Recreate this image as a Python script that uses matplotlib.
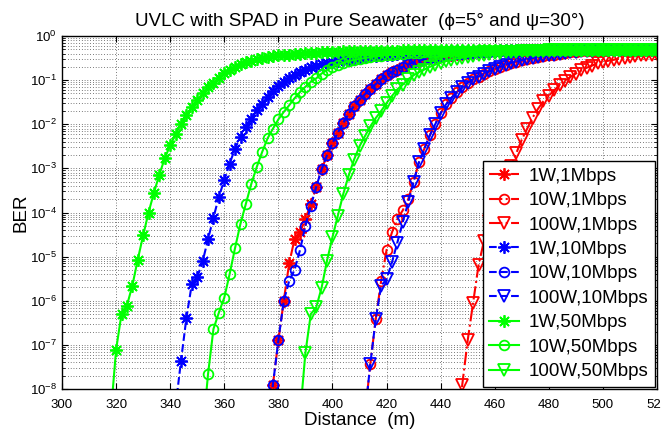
import matplotlib
matplotlib.use("Agg")
import matplotlib.pyplot as plt
from matplotlib.ticker import LogLocator, NullFormatter
import numpy as np

plt.rcParams["font.family"] = ["Liberation Sans", "DejaVu Sans"]
plt.rcParams["mathtext.fontset"] = "custom"
plt.rcParams["mathtext.rm"] = "Liberation Sans"
plt.rcParams["mathtext.it"] = "Liberation Sans:italic"

# log10(BER), one value every 2 m starting at *_start
g1_start = 318
g1_log = [-8.60, -7.11, -6.30, -6.11, -5.66, -5.07, -4.52, -4.00, -3.55, -3.14,
          -2.77, -2.48, -2.23, -2.00, -1.80, -1.61, -1.45, -1.30, -1.16, -1.07,
          -0.95, -0.84, -0.77, -0.70, -0.64, -0.60, -0.56, -0.53, -0.50, -0.48,
          -0.46, -0.44, -0.43, -0.42, -0.41, -0.40, -0.39, -0.38, -0.375, -0.37,
          -0.365, -0.36, -0.355, -0.35, -0.35, -0.345, -0.345, -0.34, -0.34, -0.335,
          -0.335, -0.33, -0.33, -0.33, -0.325, -0.325, -0.325, -0.32, -0.32, -0.32,
          -0.32, -0.318, -0.318, -0.316, -0.316, -0.315, -0.315, -0.314, -0.314, -0.313,
          -0.313, -0.312, -0.312, -0.312, -0.311, -0.311, -0.311, -0.31, -0.31, -0.31,
          -0.31, -0.31, -0.309, -0.309, -0.309, -0.309, -0.308, -0.308, -0.308, -0.308,
          -0.308, -0.307, -0.307, -0.307, -0.307, -0.307, -0.306, -0.306, -0.306, -0.306,
          -0.306, -0.306]

b1_start = 342
b1_log = [-8.40, -7.36, -6.39, -5.62, -5.47, -5.11, -4.60, -4.12, -3.64, -3.27,
          -2.89, -2.55, -2.29, -2.06, -1.87, -1.68, -1.53, -1.38, -1.24, -1.14,
          -1.04, -0.96, -0.89, -0.81, -0.76, -0.70, -0.67, -0.64, -0.62, -0.59,
          -0.57, -0.55, -0.53, -0.51, -0.49, -0.48, -0.46, -0.45, -0.44, -0.43,
          -0.42, -0.41, -0.40, -0.39, -0.385, -0.38, -0.375, -0.37, -0.365, -0.36,
          -0.355, -0.35, -0.35, -0.345, -0.34, -0.34, -0.335, -0.335, -0.33, -0.33,
          -0.328, -0.326, -0.325, -0.324, -0.322, -0.321, -0.32, -0.319, -0.318, -0.317,
          -0.316, -0.315, -0.315, -0.314, -0.313, -0.313, -0.312, -0.312, -0.311, -0.311,
          -0.31, -0.31, -0.31, -0.309, -0.309, -0.309, -0.308, -0.308, -0.308, -0.308]

g10_start = 352
g10_log = [-9.00, -7.66, -6.64, -6.27, -5.93, -5.39, -4.80, -4.25, -3.80, -3.35,
           -2.97, -2.63, -2.32, -2.10, -1.89, -1.72, -1.57, -1.41, -1.27, -1.15,
           -1.04, -0.96, -0.85, -0.77, -0.70, -0.65, -0.61, -0.57, -0.54, -0.52,
           -0.50, -0.48, -0.46, -0.45, -0.43, -0.42, -0.41, -0.40, -0.39, -0.38,
           -0.375, -0.37, -0.36, -0.355, -0.35, -0.345, -0.34, -0.34, -0.335, -0.33,
           -0.33, -0.327, -0.325, -0.323, -0.321, -0.32, -0.319, -0.318, -0.317, -0.316,
           -0.315, -0.314, -0.313, -0.313, -0.312, -0.311, -0.311, -0.31, -0.31, -0.31,
           -0.309, -0.309, -0.309, -0.308, -0.308, -0.308, -0.307, -0.307, -0.307, -0.307,
           -0.306, -0.306, -0.306, -0.306, -0.306]

b10_start = 376
b10_log = [-9.00, -7.90, -6.90, -6.00, -5.55, -5.30, -4.85, -4.30, -3.85, -3.42,
           -3.02, -2.70, -2.43, -2.19, -1.97, -1.76, -1.58, -1.44, -1.32, -1.20,
           -1.09, -0.98, -0.89, -0.82, -0.76, -0.70, -0.64, -0.60, -0.56, -0.53,
           -0.50, -0.48, -0.46, -0.44, -0.42, -0.41, -0.40, -0.39, -0.38, -0.37,
           -0.36, -0.355, -0.35, -0.345, -0.34, -0.335, -0.33, -0.328, -0.326, -0.324,
           -0.322, -0.32, -0.319, -0.318, -0.317, -0.316, -0.315, -0.314, -0.313, -0.312,
           -0.312, -0.311, -0.311, -0.31, -0.31, -0.31, -0.309, -0.309, -0.309, -0.308,
           -0.308, -0.308, -0.308]

r1_start = 376
r1_log = [-9.00, -7.90, -6.90, -6.00, -5.15, -4.60, -4.45, -4.15, -3.80, -3.42,
          -3.02, -2.70, -2.43, -2.19, -1.97, -1.76, -1.58, -1.44, -1.32, -1.20,
          -1.09, -0.98, -0.89, -0.82, -0.76, -0.70, -0.64, -0.60, -0.56, -0.53,
          -0.50, -0.48, -0.46, -0.44, -0.42, -0.41, -0.40, -0.39, -0.38, -0.37,
          -0.36, -0.355, -0.35, -0.345, -0.34, -0.335, -0.33, -0.328, -0.326, -0.324,
          -0.322, -0.32, -0.319, -0.318, -0.317, -0.316, -0.315, -0.314, -0.313, -0.312,
          -0.312, -0.311, -0.311, -0.31, -0.31, -0.31, -0.309, -0.309, -0.309, -0.308,
          -0.308, -0.308, -0.308]

g100_start = 388
g100_log = [-8.60, -7.18, -6.30, -6.15, -5.70, -5.09, -4.56, -4.07, -3.58, -3.16,
            -2.80, -2.50, -2.27, -2.05, -1.86, -1.70, -1.52, -1.36, -1.21, -1.10,
            -0.98, -0.89, -0.82, -0.76, -0.70, -0.65, -0.61, -0.57, -0.54, -0.51,
            -0.49, -0.47, -0.45, -0.43, -0.42, -0.40, -0.39, -0.38, -0.37, -0.36,
            -0.355, -0.35, -0.345, -0.34, -0.335, -0.33, -0.327, -0.325, -0.322, -0.32,
            -0.318, -0.317, -0.316, -0.315, -0.314, -0.313, -0.312, -0.311, -0.311, -0.31,
            -0.31, -0.31, -0.309, -0.309, -0.309, -0.308, -0.308]

b100_start = 412
b100_log = [-8.60, -7.43, -6.42, -5.66, -5.51, -5.13, -4.68, -4.22, -3.77, -3.30,
            -2.86, -2.55, -2.25, -2.00, -1.75, -1.55, -1.40, -1.27, -1.16, -1.06,
            -0.98, -0.92, -0.86, -0.80, -0.75, -0.70, -0.65, -0.61, -0.58, -0.55,
            -0.53, -0.50, -0.48, -0.46, -0.44, -0.42, -0.40, -0.385, -0.37, -0.355,
            -0.345, -0.335, -0.33, -0.325, -0.32, -0.318, -0.316, -0.314, -0.313, -0.312,
            -0.311, -0.31, -0.31, -0.309, -0.309]

r10_start = 412
r10_log = [-8.60, -7.43, -6.42, -5.55, -4.85, -4.45, -4.15, -3.95, -3.70, -3.30,
           -2.86, -2.55, -2.25, -2.00, -1.75, -1.55, -1.40, -1.27, -1.16, -1.06,
           -0.98, -0.92, -0.86, -0.80, -0.75, -0.70, -0.65, -0.61, -0.58, -0.55,
           -0.53, -0.50, -0.48, -0.46, -0.44, -0.42, -0.40, -0.385, -0.37, -0.355,
           -0.345, -0.335, -0.33, -0.325, -0.32, -0.318, -0.316, -0.314, -0.313, -0.312,
           -0.311, -0.31, -0.31, -0.309, -0.309]

r100_start = 446
r100_log = [-9.20, -7.90, -6.90, -6.05, -5.20, -4.65, -4.20, -3.85, -3.50, -3.20,
            -2.95, -2.65, -2.35, -2.10, -1.85, -1.65, -1.48, -1.35, -1.23, -1.11,
            -1.01, -0.93, -0.85, -0.78, -0.72, -0.67, -0.62, -0.59, -0.56, -0.54,
            -0.51, -0.49, -0.47, -0.46, -0.44, -0.43, -0.42, -0.41]

labels = ["1W,1Mbps", "10W,1Mbps", "100W,1Mbps",
          "1W,10Mbps", "10W,10Mbps", "100W,10Mbps",
          "1W,50Mbps", "10W,50Mbps", "100W,50Mbps"]

series = [(r1_start, r1_log), (r10_start, r10_log), (r100_start, r100_log),
          (b1_start, b1_log), (b10_start, b10_log), (b100_start, b100_log),
          (g1_start, g1_log), (g10_start, g10_log), (g100_start, g100_log)]

colors = ["r"] * 3 + ["b"] * 3 + ["#00ff00"] * 3
styles = ["-."] * 3 + ["--"] * 3 + ["-"] * 3
asterisk = (8, 2, 0)
markers = [asterisk, "o", "v"] * 3
msizes = [9, 7, 8] * 3

fig = plt.figure(figsize=(6.61, 4.30), dpi=100)
ax = fig.add_axes([62 / 661, 41 / 430, 595 / 661, 353 / 430])

for (start, vals), lab, c, ls, mk, ms in zip(series, labels, colors, styles, markers, msizes):
    d = np.arange(start, start + 2 * len(vals), 2)
    ber = 10.0 ** np.array(vals)
    ax.semilogy(d, ber, color=c, linestyle=ls, linewidth=1.5, marker=mk,
                markersize=ms, markerfacecolor="none", markeredgecolor=c,
                markeredgewidth=1.3, label=lab)

ax.set_xlim(300, 520)
ax.set_ylim(1e-8, 1)
ax.set_xticks(np.arange(300, 521, 20))
ax.yaxis.set_major_locator(LogLocator(base=10, numticks=20))
ax.yaxis.set_minor_locator(LogLocator(base=10, subs=np.arange(2, 10), numticks=20))
ax.yaxis.set_minor_formatter(NullFormatter())

ax.grid(True, which="major", color="k", linestyle=(0, (1, 3)), linewidth=0.5)
ax.grid(True, which="minor", axis="y", color="k", linestyle=(0, (1, 3)), linewidth=0.5)
ax.tick_params(which="both", direction="in", top=True, right=True, labelsize=9.5)
ax.tick_params(axis="x", pad=7)
ax.tick_params(which="major", length=4)
ax.tick_params(which="minor", length=2)
for sp in ax.spines.values():
    sp.set_linewidth(1.0)

ax.set_title("UVLC with SPAD in Pure Seawater  (\u03d5=5\u00b0 and \u03c8=30\u00b0)",
             fontsize=13.5, pad=7.5)
ax.set_xlabel("Distance  (m)", fontsize=13.5, labelpad=1)
ax.set_ylabel("BER", fontsize=13.5, labelpad=0)

leg = ax.legend(loc="lower right", fontsize=13.5, frameon=True, fancybox=False,
                edgecolor="k", framealpha=1, borderpad=0.35, labelspacing=0.39,
                handlelength=1.6, handletextpad=0.5, borderaxespad=0.12)
leg.get_frame().set_linewidth(1.0)

fig.savefig("out.png", dpi=100)
